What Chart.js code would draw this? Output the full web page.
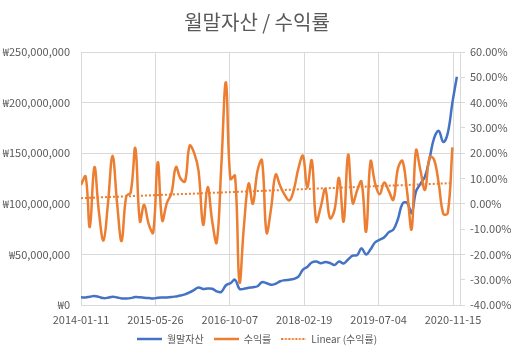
<!DOCTYPE html>
<html>
<head>
<meta charset="utf-8">
<script src="https://cdn.jsdelivr.net/npm/chart.js@4.4.0/dist/chart.umd.min.js"></script>
<style>
  html, body { margin: 0; padding: 0; background: #fff; }
</style>
</head>
<body>
<canvas id="chart" width="514" height="354"></canvas>
<script>
    'use strict';

    // month-end snapshots (one per month)
    var startDate = '2014-01-11';
    var endDate = '2021-01-01';
    var dates = [
        '2014-01-11', '2014-02-11', '2014-03-11', '2014-04-11', '2014-05-11', '2014-06-11', '2014-07-11', '2014-08-11', '2014-09-11', '2014-10-11', '2014-11-11', '2014-12-11',
        '2015-01-11', '2015-02-11', '2015-03-11', '2015-04-11', '2015-05-11', '2015-06-11', '2015-07-11', '2015-08-11', '2015-09-11', '2015-10-11', '2015-11-11', '2015-12-11',
        '2016-01-11', '2016-02-11', '2016-03-11', '2016-04-11', '2016-05-11', '2016-06-11', '2016-07-11', '2016-08-11', '2016-09-11', '2016-10-11', '2016-11-11', '2016-12-11',
        '2017-01-11', '2017-02-11', '2017-03-11', '2017-04-11', '2017-05-11', '2017-06-11', '2017-07-11', '2017-08-11', '2017-09-11', '2017-10-11', '2017-11-11', '2017-12-11',
        '2018-01-11', '2018-02-11', '2018-03-11', '2018-04-11', '2018-05-11', '2018-06-11', '2018-07-11', '2018-08-11', '2018-09-11', '2018-10-11', '2018-11-11', '2018-12-11',
        '2019-01-11', '2019-02-11', '2019-03-11', '2019-04-11', '2019-05-11', '2019-06-11', '2019-07-11', '2019-08-11', '2019-09-11', '2019-10-11', '2019-11-11', '2019-12-11',
        '2020-01-11', '2020-02-11', '2020-03-11', '2020-04-11', '2020-05-11', '2020-06-11', '2020-07-11', '2020-08-11', '2020-09-11', '2020-10-11', '2020-11-11', '2020-12-11'
    ];

    // 월말자산, in millions of won
    var assets = [
        7.6, 7.5, 8.2, 8.9, 8, 6.8, 7.2, 8.2, 7.5, 6.5,
        6.4, 6.8, 7.8, 7.6, 7.2, 6.8, 6.4, 7.2, 7.4, 7.4,
        7.8, 8.5, 9.3, 10.5, 12.5, 15, 17.3, 15.8, 16.3, 16,
        13.5, 13, 19.5, 21.5, 25, 16, 16, 17, 17.5, 18.5,
        22.5, 21.5, 20, 21, 23.5, 24.5, 25, 25.8, 28, 35,
        37.5, 42, 43, 41.2, 42.5, 41.5, 39.5, 43, 41, 45,
        48.7, 49.4, 56, 50, 55, 62, 64.5, 67, 72, 74.5,
        85, 100, 101, 91, 112, 120, 127, 145, 165, 172,
        161, 170, 200, 225.6
    ];

    // 수익률, in percent (no value for the last month)
    var returns = [
        7.5, 10.8, -9.2, 14.5, -3, -14.5, 0, 19, 0, -14.7,
        2.9, 4.5, 22, -7, -0.4, -8, -11.4, 16.4, -6.6, 0.3,
        4.2, 14.5, 10, 8.8, 23, 20, 13, -8.3, 6.6, -7,
        -15.3, 15, 48, 9.8, 11.1, -31, -8, 8, 0, 13,
        17.2, -11.4, -2, 11.5, 7, 3.5, 1.3, 5.5, 14, 19,
        6.5, 17.2, -7, -1, 5.8, -5.7, -2.4, 10.2, -7, 19.4,
        0.3, 5.5, 8.8, -11, 16.8, 8, 3.8, 8.4, 5, 1.6,
        14, 17, 5, -10, 21.1, 13, 5.5, 18.5, 17.4, 8,
        -4, -3.7, 22.3
    ];

    var xTickLabels = ['2014-01-11', '2015-05-26', '2016-10-07', '2018-02-19', '2019-07-04', '2020-11-15'];
    var assetTicks = [0, 50, 100, 150, 200, 250];
    var returnTicks = [-40, -30, -20, -10, 0, 10, 20, 30, 40, 50, 60];

    var BLUE = '#4472C4';
    var ORANGE = '#ED7D31';
    var TEXT = '#595959';
    var GRID = '#D9D9D9';

    function dayOf(s) {
        return (Date.parse(s) - Date.parse(startDate)) / 86400000;
    }

    function labelOf(d) {
        return new Date(Date.parse(startDate) + d * 86400000).toISOString().slice(0, 10);
    }

    // small canvas used as the legend's line sample
    function lineSample(color, width, dash) {
        var c = document.createElement('canvas');
        c.width = 25;
        c.height = 4;
        var g = c.getContext('2d');
        g.strokeStyle = color;
        g.lineWidth = width;
        g.setLineDash(dash);
        g.beginPath();
        g.moveTo(0, 2);
        g.lineTo(25, 2);
        g.stroke();
        return c;
    }

    // Excel style linear trendline over the 수익률 series
    function trendPoints() {
        var xs = returns.map(function(v, i) { return dayOf(dates[i]); });
        var n = xs.length;
        var mx = xs.reduce(function(a, b) { return a + b; }, 0) / n;
        var my = returns.reduce(function(a, b) { return a + b; }, 0) / n;
        var sxy = 0, sxx = 0;
        for (var i = 0; i < n; i++) {
            sxy += (xs[i] - mx) * (returns[i] - my);
            sxx += (xs[i] - mx) * (xs[i] - mx);
        }
        var slope = sxy / sxx;
        return [xs[0], xs[n - 1]].map(function(x) {
            return { x: x, y: my + slope * (x - mx) };
        });
    }

    Chart.defaults.font.family = '"Noto Sans CJK KR", "Noto Sans", sans-serif';
    Chart.defaults.color = TEXT;

    var context = document.getElementById('chart').getContext('2d');
    var chart = new Chart(context, {
        type: 'line',
        data: {
            datasets: [
                {
                    label: '월말자산',
                    data: assets.map(function(v, i) { return { x: dayOf(dates[i]), y: v }; }),
                    borderColor: BLUE,
                    backgroundColor: BLUE,
                    borderWidth: 2.5,
                    pointRadius: 0,
                    pointStyle: lineSample(BLUE, 2.5, []),
                    tension: 0.4,
                    yAxisID: 'y',
                    order: 3
                },
                {
                    label: '수익률',
                    data: returns.map(function(v, i) { return { x: dayOf(dates[i]), y: v }; }),
                    borderColor: ORANGE,
                    backgroundColor: ORANGE,
                    borderWidth: 2.5,
                    pointRadius: 0,
                    pointStyle: lineSample(ORANGE, 2.5, []),
                    tension: 0.4,
                    yAxisID: 'y1',
                    order: 2
                },
                {
                    label: 'Linear (수익률)',
                    data: trendPoints(),
                    borderColor: ORANGE,
                    backgroundColor: ORANGE,
                    borderWidth: 2,
                    borderDash: [2, 2],
                    pointRadius: 0,
                    pointStyle: lineSample(ORANGE, 2, [2, 1.5]),
                    tension: 0,
                    yAxisID: 'y1',
                    order: 1
                }
            ]
        },
        options: {
            responsive: false,
            animation: false,
            layout: { padding: 0 },
            plugins: {
                title: {
                    display: true,
                    text: '월말자산 / 수익률',
                    color: TEXT,
                    font: { size: 20, weight: 'normal' },
                    padding: { top: 10, bottom: 18 }
                },
                legend: {
                    position: 'bottom',
                    labels: {
                        usePointStyle: true,
                        pointStyleWidth: 25,
                        color: TEXT,
                        font: { size: 10 },
                        padding: 10,
                        sort: function(a, b) { return a.datasetIndex - b.datasetIndex; }
                    }
                },
                tooltip: { enabled: false }
            },
            scales: {
                x: {
                    type: 'linear',
                    min: 0,
                    max: dayOf(endDate),
                    afterBuildTicks: function(scale) {
                        scale.ticks = xTickLabels.map(function(t) { return { value: dayOf(t) }; });
                    },
                    afterFit: function(scale) { scale.height = 19; },
                    ticks: {
                        autoSkip: false,
                        maxRotation: 0,
                        padding: 8,
                        font: { size: 11 },
                        callback: function(v) { return labelOf(v); }
                    },
                    grid: { color: GRID, drawTicks: false },
                    border: { color: GRID }
                },
                y: {
                    position: 'left',
                    min: 0,
                    max: 250,
                    afterBuildTicks: function(scale) {
                        scale.ticks = assetTicks.map(function(t) { return { value: t }; });
                    },
                    afterFit: function(scale) { scale.width = 81; },
                    ticks: {
                        padding: 11,
                        font: { size: 11 },
                        callback: function(v) { return '₩' + (v * 1000000).toLocaleString('en-US'); }
                    },
                    grid: { color: GRID, drawTicks: false },
                    border: { display: false }
                },
                y1: {
                    position: 'right',
                    min: -40,
                    max: 60,
                    afterBuildTicks: function(scale) {
                        scale.ticks = returnTicks.map(function(t) { return { value: t }; });
                    },
                    afterFit: function(scale) { scale.width = 54; },
                    ticks: {
                        padding: 5,
                        font: { size: 11 },
                        callback: function(v) { return v.toFixed(2) + '%'; }
                    },
                    grid: { drawOnChartArea: false, color: GRID, tickLength: 5 },
                    border: { color: GRID }
                }
            }
        }
    });
</script>
</body>
</html>
